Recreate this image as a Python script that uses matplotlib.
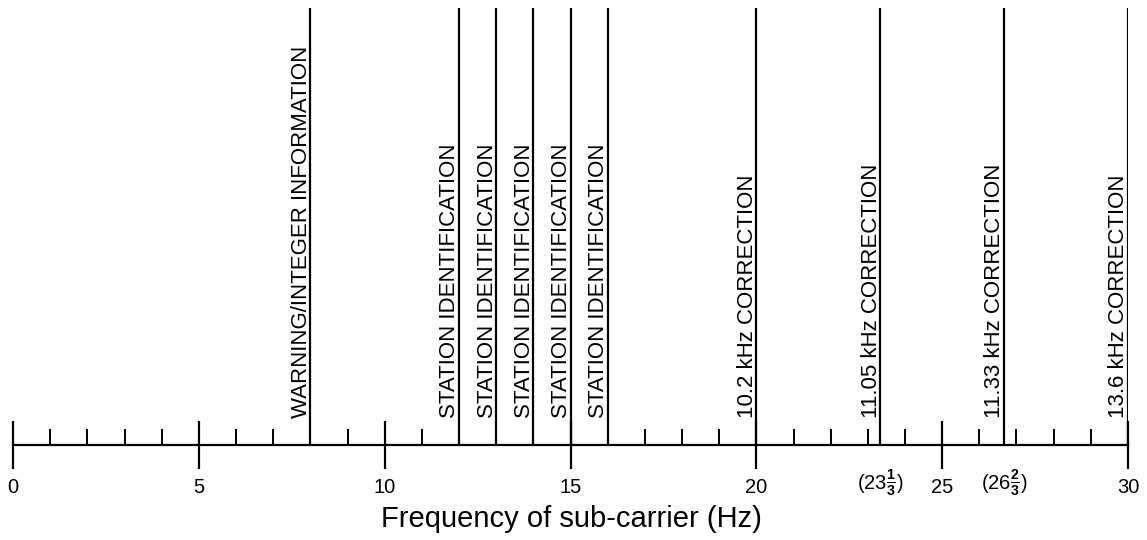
import matplotlib
matplotlib.use("Agg")
import matplotlib.pyplot as plt

plt.rcParams['font.family'] = ['Liberation Sans', 'DejaVu Sans']
plt.rcParams['mathtext.fontset'] = 'custom'
plt.rcParams['mathtext.rm'] = 'Liberation Sans'
plt.rcParams['mathtext.bf'] = 'Liberation Sans:bold'

# sub-carrier frequencies (Hz) and what each one carries
freqs = [8, 12, 13, 14, 15, 16, 20, 23 + 1 / 3, 26 + 2 / 3, 30]
names = ["WARNING/INTEGER INFORMATION",
         "STATION IDENTIFICATION",
         "STATION IDENTIFICATION",
         "STATION IDENTIFICATION",
         "STATION IDENTIFICATION",
         "STATION IDENTIFICATION",
         "10.2 kHz CORRECTION",
         "11.05 kHz CORRECTION",
         "11.33 kHz CORRECTION",
         "13.6 kHz CORRECTION"]

major_ticks = [0, 5, 10, 15, 20, 25, 30]
major_labels = ["0", "5", "10", "15", "20", "25", "30"]
minor_ticks = [i for i in range(1, 30) if i % 5 != 0]
frac_ticks = [23 + 1 / 3, 26 + 2 / 3]
frac_labels = [r"(23$\mathbf{\frac{1}{3}}$)", r"(26$\mathbf{\frac{2}{3}}$)"]

W, H = 1147, 540
fig = plt.figure(figsize=(W / 100, H / 100), dpi=100)
# axis line at y=445 px, line tops at y=8 px, 0 Hz at x=13, 30 Hz at x=1128
ax = fig.add_axes([13 / W, (H - 445) / H, (1128 - 13) / W, (445 - 8) / H])
ax.set_xlim(0, 30)
ax.set_ylim(0, 1)
ax.patch.set_visible(False)

for s in ['top', 'right', 'left']:
    ax.spines[s].set_visible(False)
ax.spines['bottom'].set_linewidth(1.6)
ax.set_yticks([])

ax.set_xticks(major_ticks)
ax.set_xticklabels(major_labels, fontsize=14.5)
ax.set_xticks(minor_ticks, minor=True)
ax.tick_params(axis='x', which='major', direction='inout', length=35, width=1.6, pad=6)
ax.tick_params(axis='x', which='minor', direction='in', length=11.5, width=1.4)

ax.vlines(freqs, 0, 1, color='black', linewidth=1.6)

for f, name in zip(freqs, names):
    ax.annotate(name, (f, 27 / 437), xytext=(1.0, 0), textcoords='offset points',
                rotation=90, ha='right', va='bottom', fontsize=16)

for f, lab in zip(frac_ticks, frac_labels):
    ax.text(f, -45 / 437, lab, transform=ax.get_xaxis_transform(),
            ha='center', va='baseline', fontsize=14.5)

fig.text(571 / W, 1 - 519 / H, "Frequency of sub-carrier (Hz)",
         ha='center', va='center', fontsize=21)

fig.savefig("out.png", dpi=100)
